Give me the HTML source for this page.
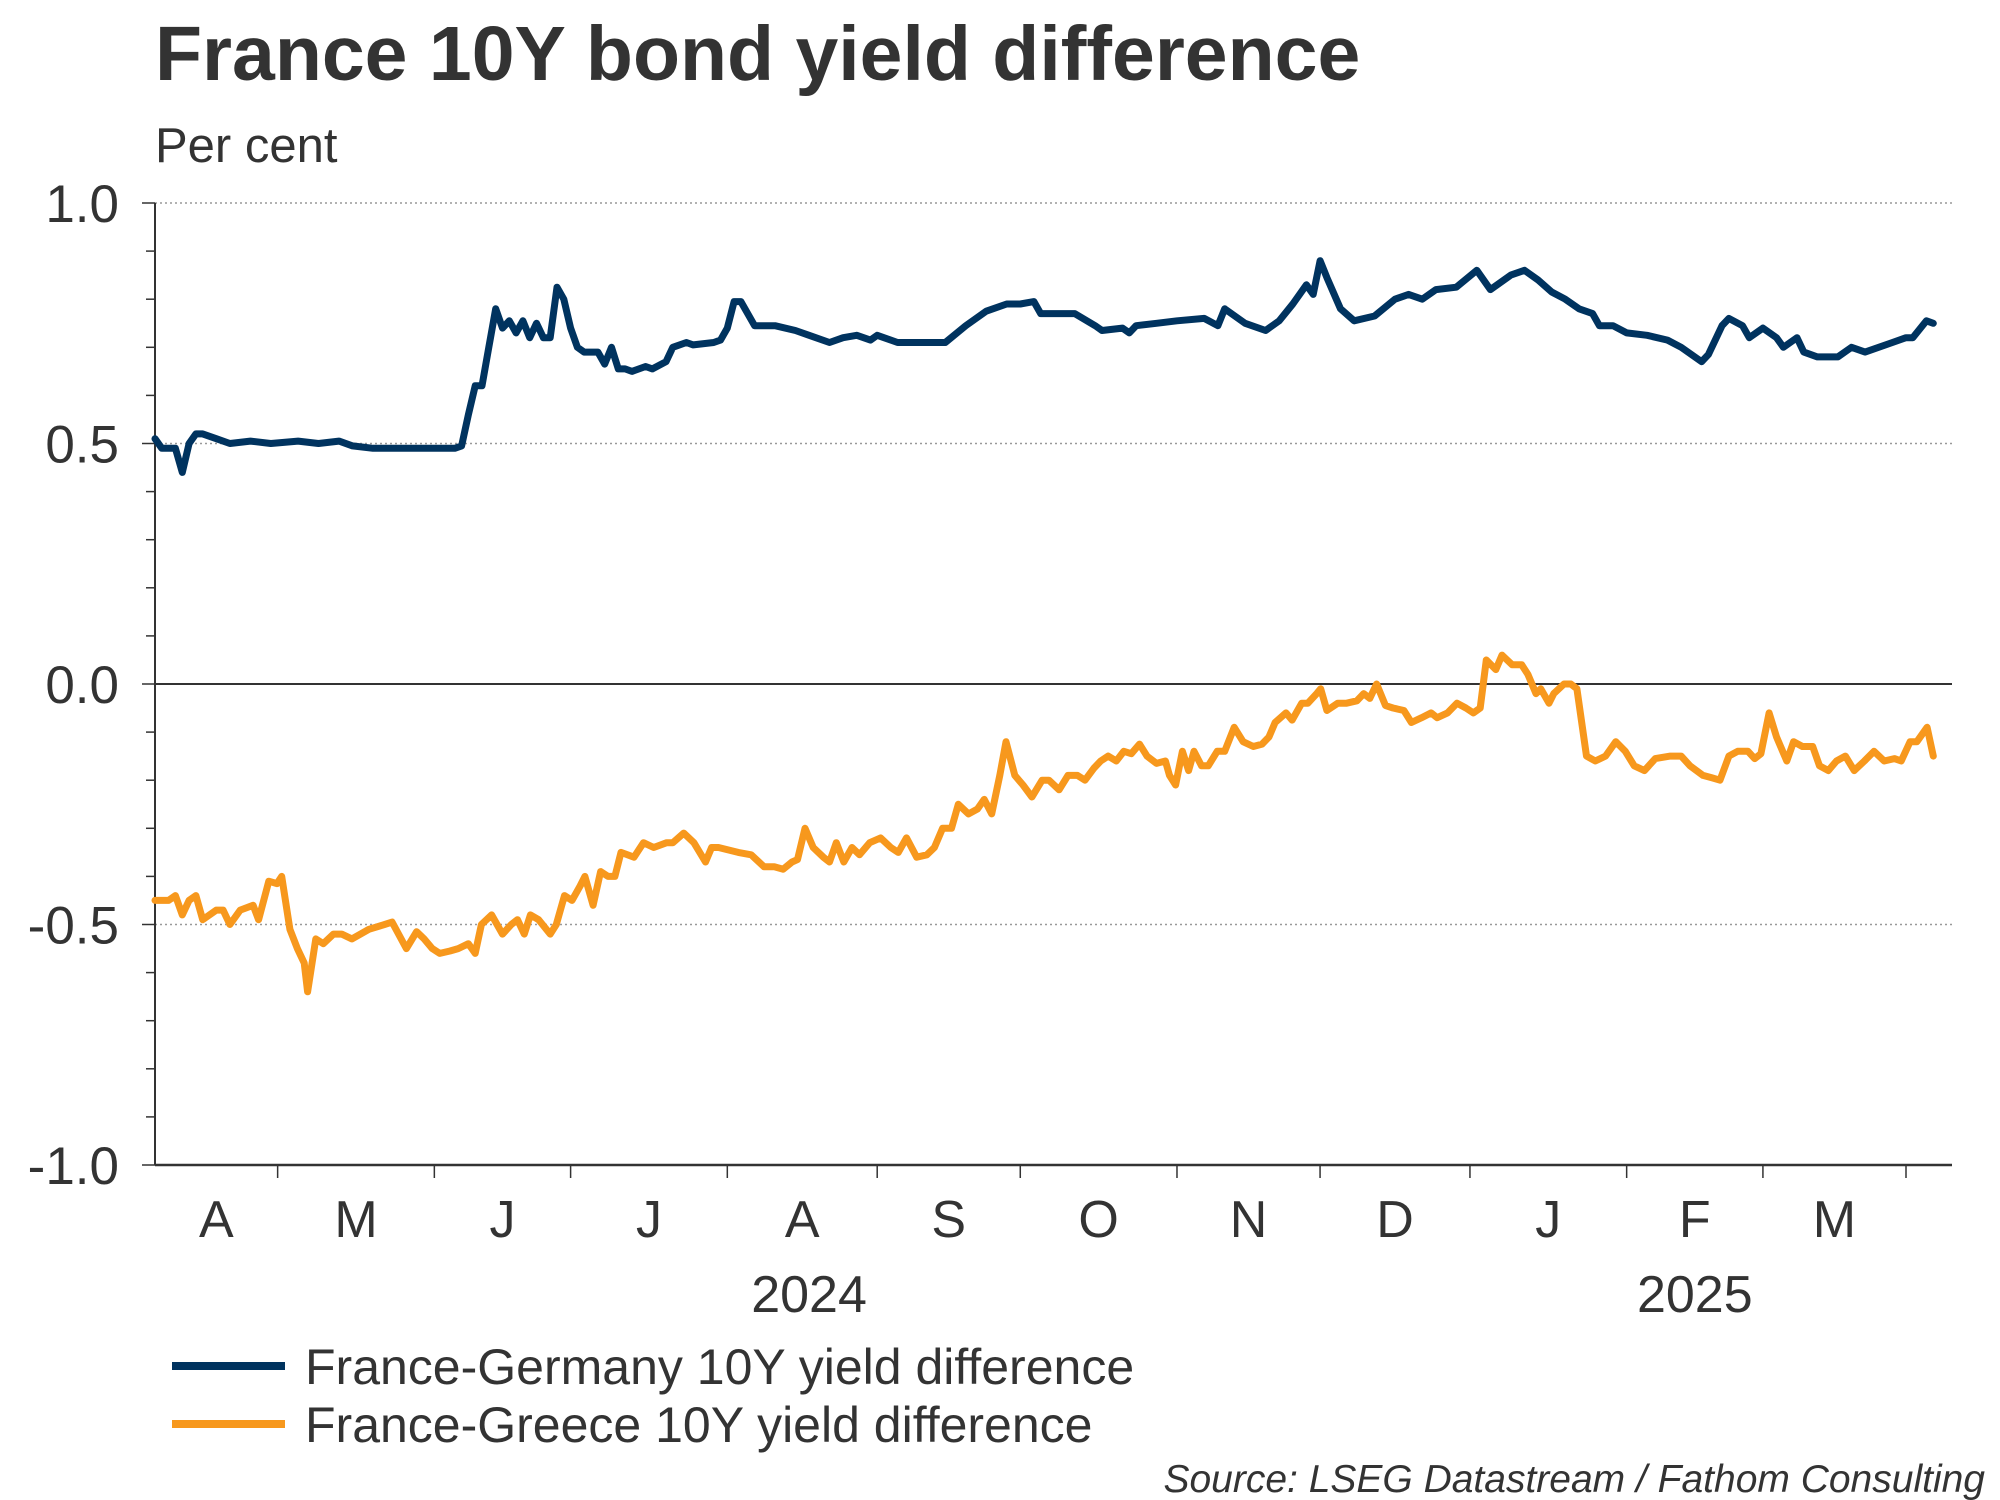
<!DOCTYPE html>
<html><head><meta charset="utf-8"><style>
html,body{margin:0;padding:0;background:#fff}
svg{display:block}
text{font-family:"Liberation Sans",Arial,sans-serif;fill:#333}
</style></head><body>
<svg id="chart" width="2000" height="1500" viewBox="0 0 2000 1500" xmlns="http://www.w3.org/2000/svg">
<text x="155" y="80" font-size="77" font-weight="bold">France 10Y bond yield difference</text>
<text x="155" y="162" font-size="49">Per cent</text>
<g id="grid"></g>
<g id="axes"></g>
<g id="series"></g>
<g>
<line x1="172" y1="1366" x2="285" y2="1366" stroke="#00335f" stroke-width="8"/>
<text x="305" y="1384" font-size="50">France-Germany 10Y yield difference</text>
<line x1="172" y1="1424" x2="285" y2="1424" stroke="#f7981d" stroke-width="8"/>
<text x="305" y="1442" font-size="50">France-Greece 10Y yield difference</text>
</g>
<text x="1985" y="1492" font-size="39" font-style="italic" text-anchor="end">Source: LSEG Datastream / Fathom Consulting</text>
</svg>
<script>
const yTicks=[1.0,0.5,0.0,-0.5,-1.0];
const yTickLabels=["1.0","0.5","0.0","-0.5","-1.0"];
const monthTickIdx=[18,41,61,84,106,127,150,171,193,216,236,257];
const monthLabels=["A","M","J","J","A","S","O","N","D","J","F","M"];
const monthLabelIdx=[9,29.5,51,72.5,95,116.5,138.5,160.5,182,204.5,226,246.5];
const yearLabels=["2024","2025"];
const yearLabelIdx=[96,226];
const germanyIdx=[0,1,3,4,5,6,7,9,11,14,17,21,24,27,29,32,35,38,41,44,45,46,47,48,49,50,51,52,53,54,55,56,57,58,59,60,61,62,63,65,66,67,68,69,70,72,73,75,76,78,79,82,83,84,85,86,88,91,94,96,99,101,103,105,106,109,111,114,116,119,122,125,127,129,130,135,138,139,142,143,144,147,150,154,156,157,160,163,165,167,169,170,171,172,174,176,179,182,184,186,188,191,194,196,199,201,203,205,207,209,211,212,214,216,219,222,224,227,228,230,231,233,234,236,238,239,241,242,244,247,249,251,255,257,258,260,261];
const germanyVal=[.51,.49,.49,.44,.50,.52,.52,.51,.50,.505,.50,.505,.50,.505,.495,.49,.49,.49,.49,.49,.495,.56,.62,.62,.70,.78,.74,.755,.73,.755,.72,.75,.72,.72,.825,.80,.74,.70,.69,.69,.665,.70,.655,.655,.65,.66,.655,.67,.70,.71,.705,.71,.715,.74,.795,.795,.745,.745,.735,.725,.71,.72,.725,.715,.725,.71,.71,.71,.71,.745,.775,.79,.79,.795,.77,.77,.745,.735,.74,.73,.745,.75,.755,.76,.745,.78,.75,.735,.755,.79,.83,.81,.88,.845,.78,.755,.765,.80,.81,.80,.82,.825,.86,.82,.85,.86,.84,.815,.80,.78,.77,.745,.745,.73,.725,.715,.70,.67,.685,.745,.76,.745,.72,.74,.72,.70,.72,.69,.68,.68,.70,.69,.71,.72,.72,.755,.75];
const greeceIdx=[0,2,3,4,5,6,7,9,10,11,12.5,14.4,15.2,16.7,17.9,18.6,19.8,20.9,21.9,22.4,23.6,24.7,26.2,27.4,28.9,31.4,33.7,34.8,36.9,38.4,39.5,40.7,41.8,43.3,44.5,46,47,47.9,49.4,51,52.3,53.2,54.2,55.1,56.3,58,58.9,60.1,61.2,62.4,63.1,64.3,65.4,66.5,67.5,68.4,70.3,71.7,73.2,75.1,76,77.6,79.1,80.8,81.7,82.7,85.6,87.5,89.4,90.9,92.2,93.5,94.3,95.4,96.6,98.1,99,100,101.1,102.3,103.4,104.9,106.5,108,109.1,110.3,111.8,113.3,114.4,115.6,116.9,117.9,119.4,120.7,121.7,122.8,124,124.9,126.2,127.4,128.7,130.2,131.2,132.7,134,135.4,136.5,137.8,138.8,139.9,141.1,142.2,143.3,144.5,145.6,147,148.3,148.9,149.8,150.8,151.7,152.5,153.6,154.6,155.9,157,158.4,159.7,161.2,162.5,163.5,164.4,166,166.9,168.3,169.2,170.5,171.1,172,173.6,174.9,176.4,177.4,178.3,179.3,180.6,181.7,183.3,184.4,185.9,187.3,188.2,189.7,191.1,192.4,193.5,194.5,195.4,196.8,197.7,199.2,200.6,201.5,202.7,203.4,204.6,205.3,206.8,207.8,208.7,210.1,211.4,212.9,214.4,215.8,217.1,218.6,220.2,222.4,224,225.3,227.2,228.5,229.7,231,232.3,233.8,234.8,235.7,236.9,238,238.6,239.5,240.5,241.8,243.3,244.3,245.6,246.8,248.1,249.4,250.9,252.3,253.8,255.3,256.3,257.6,258.6,260.1,261];
const greeceVal=[-.45,-.45,-.44,-.48,-.45,-.44,-.49,-.47,-.47,-.50,-.47,-.46,-.49,-.41,-.415,-.40,-.51,-.55,-.58,-.64,-.53,-.54,-.52,-.52,-.53,-.51,-.50,-.495,-.55,-.515,-.53,-.55,-.56,-.555,-.55,-.54,-.56,-.50,-.48,-.52,-.50,-.49,-.52,-.48,-.49,-.52,-.50,-.44,-.45,-.42,-.40,-.46,-.39,-.40,-.40,-.35,-.36,-.33,-.34,-.33,-.33,-.31,-.33,-.37,-.34,-.34,-.35,-.355,-.38,-.38,-.385,-.37,-.365,-.30,-.34,-.36,-.37,-.33,-.37,-.34,-.355,-.33,-.32,-.34,-.35,-.32,-.36,-.355,-.34,-.30,-.30,-.25,-.27,-.26,-.24,-.27,-.19,-.12,-.19,-.21,-.235,-.20,-.20,-.22,-.19,-.19,-.20,-.175,-.16,-.15,-.16,-.14,-.145,-.125,-.15,-.165,-.16,-.19,-.21,-.14,-.18,-.14,-.17,-.17,-.14,-.14,-.09,-.12,-.13,-.125,-.11,-.08,-.06,-.075,-.04,-.04,-.02,-.01,-.055,-.04,-.04,-.035,-.02,-.03,0,-.045,-.05,-.055,-.08,-.07,-.06,-.07,-.06,-.04,-.05,-.06,-.05,.05,.03,.06,.04,.04,.02,-.02,-.01,-.04,-.02,0,0,-.01,-.15,-.16,-.15,-.12,-.14,-.17,-.18,-.155,-.15,-.15,-.17,-.19,-.195,-.20,-.15,-.14,-.14,-.155,-.145,-.06,-.11,-.13,-.16,-.12,-.13,-.13,-.17,-.18,-.16,-.15,-.18,-.16,-.14,-.16,-.155,-.16,-.12,-.12,-.09,-.15,-.14];

const NS="http://www.w3.org/2000/svg";
const L=155,R=1952,T=203,B=1165;
const X0=0,X1=257,PX0=155,PX1=1906;
function xs(i){return PX0+(i-X0)/(X1-X0)*(PX1-PX0);}
function ys(v){return T+(1-v)/2*(B-T);}
function mk(tag,attrs,parent){const e=document.createElementNS(NS,tag);for(const k in attrs)e.setAttribute(k,attrs[k]);parent.appendChild(e);return e;}
const grid=document.getElementById('grid'),axes=document.getElementById('axes'),series=document.getElementById('series');
yTicks.forEach((v,k)=>{
  if(v===1||v===0.5||v===-0.5){const g=mk('line',{x1:L,x2:R,y1:ys(v),y2:ys(v),stroke:'#999','stroke-width':1.5,'stroke-dasharray':'2,3'},grid);
  
  }
  const t=mk('text',{x:119,y:ys(v)+19,'font-size':53,'text-anchor':'end'},axes);
  
  
  t.textContent=yTickLabels[k];
});
for(let m=-10;m<=10;m++){const v=m/10;const major=(m%5===0);
  const tk=mk('line',{x1:major?L-13:L-9,x2:L,y1:ys(v),y2:ys(v),stroke:'#333','stroke-width':1.5},axes);
  
  }
const z=mk('line',{x1:L,x2:R,y1:ys(0),y2:ys(0),stroke:'#333','stroke-width':2},axes);


const ya=mk('line',{x1:L,x2:L,y1:T,y2:B,stroke:'#333','stroke-width':2},axes);


const xa=mk('line',{x1:L,x2:R,y1:B,y2:B,stroke:'#333','stroke-width':2.5},axes);


monthTickIdx.forEach(i=>{const t=mk('line',{x1:xs(i),x2:xs(i),y1:B,y2:B+13,stroke:'#333','stroke-width':1.5},axes);
  
  });
monthLabels.forEach((s,k)=>{const t=mk('text',{x:xs(monthLabelIdx[k]),y:1237,'font-size':52,'text-anchor':'middle'},axes);
  
  
  t.textContent=s;});
yearLabels.forEach((s,k)=>{const t=mk('text',{x:xs(yearLabelIdx[k]),y:1312,'font-size':52,'text-anchor':'middle'},axes);
  
  
  t.textContent=s;});
function line(idx,val,color,name){const d=idx.map((i,k)=>(k?'L':'M')+xs(i).toFixed(1)+','+ys(val[k]).toFixed(1)).join('');
  const p=mk('path',{d:d,fill:'none',stroke:color,'stroke-width':7,'stroke-linejoin':'round','stroke-linecap':'round'},series);
  
  }
line(greeceIdx,greeceVal,'#f7981d','line-france-greece');
line(germanyIdx,germanyVal,'#00335f','line-france-germany');
</script>
</body></html>
